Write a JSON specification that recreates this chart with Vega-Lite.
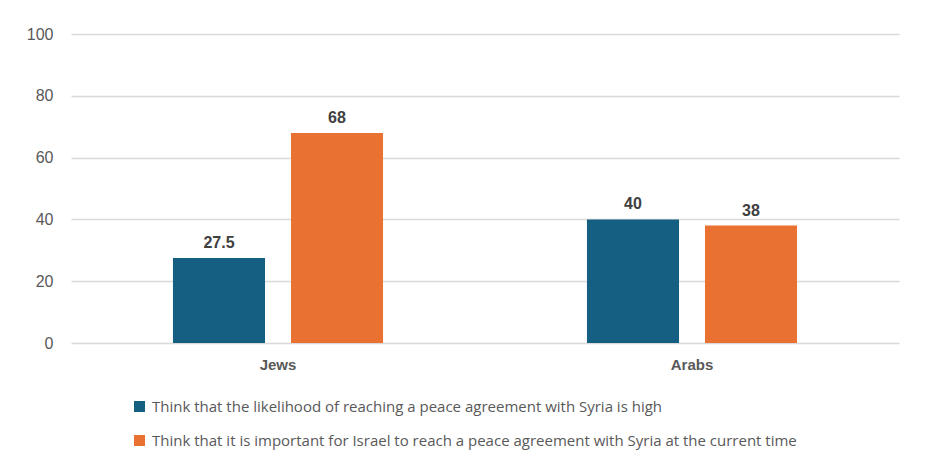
{
  "$schema": "https://vega.github.io/schema/vega-lite/v6.json",
  "width": 828,
  "height": 309,
  "autosize": {"type": "none"},
  "padding": {"left": 71, "top": 34, "right": 31, "bottom": 133},
  "background": "white",
  "data": {
    "values": [
      {"group": "Jews", "series": "Think that the likelihood of reaching a peace agreement with Syria is high", "value": 27.5},
      {"group": "Jews", "series": "Think that it is important for Israel to reach  a peace agreement with Syria at the current time", "value": 68},
      {"group": "Arabs", "series": "Think that the likelihood of reaching a peace agreement with Syria is high", "value": 40},
      {"group": "Arabs", "series": "Think that it is important for Israel to reach  a peace agreement with Syria at the current time", "value": 38}
    ]
  },
  "encoding": {
    "x": {
      "field": "group",
      "type": "nominal",
      "sort": ["Jews", "Arabs"],
      "title": null,
      "scale": {"paddingInner": 0, "paddingOuter": 0},
      "axis": {
        "labelAngle": 0,
        "labelFont": "Liberation Sans",
        "labelFontSize": 15,
        "labelFontWeight": "bold",
        "labelColor": "#595959",
        "labelPadding": 14,
        "ticks": false,
        "domain": false,
        "grid": false
      }
    },
    "xOffset": {
      "field": "series",
      "type": "nominal",
      "sort": [
        "Think that the likelihood of reaching a peace agreement with Syria is high",
        "Think that it is important for Israel to reach  a peace agreement with Syria at the current time"
      ],
      "scale": {"paddingInner": 0.22, "paddingOuter": 0.864}
    },
    "y": {
      "field": "value",
      "type": "quantitative",
      "title": null,
      "scale": {"domain": [0, 100], "nice": false},
      "axis": {
        "values": [0, 20, 40, 60, 80, 100],
        "labelFont": "Liberation Sans",
        "labelFontSize": 16,
        "labelColor": "#595959",
        "labelPadding": 18,
        "ticks": false,
        "domain": false,
        "gridColor": "#d9d9d9",
        "gridWidth": 1.5
      }
    }
  },
  "layer": [
    {
      "mark": {"type": "bar"},
      "encoding": {
        "color": {
          "field": "series",
          "type": "nominal",
          "sort": [
            "Think that the likelihood of reaching a peace agreement with Syria is high",
            "Think that it is important for Israel to reach  a peace agreement with Syria at the current time"
          ],
          "scale": {"range": ["#156082", "#E97132"]},
          "legend": {
            "title": null,
            "orient": "none",
            "direction": "vertical",
            "legendX": 61,
            "legendY": 365,
            "symbolType": "square",
            "symbolSize": 121,
            "symbolStrokeWidth": 0,
            "labelFont": "Open Sans",
            "labelFontSize": 15,
            "labelColor": "#595959",
            "labelOffset": 5,
            "labelLimit": 0,
            "rowPadding": 18
          }
        }
      }
    },
    {
      "mark": {
        "type": "text",
        "dy": -15,
        "font": "Liberation Sans",
        "fontSize": 16,
        "fontWeight": "bold",
        "color": "#404040"
      },
      "encoding": {
        "text": {"field": "value", "type": "quantitative"}
      }
    }
  ],
  "config": {
    "view": {"stroke": null}
  }
}
